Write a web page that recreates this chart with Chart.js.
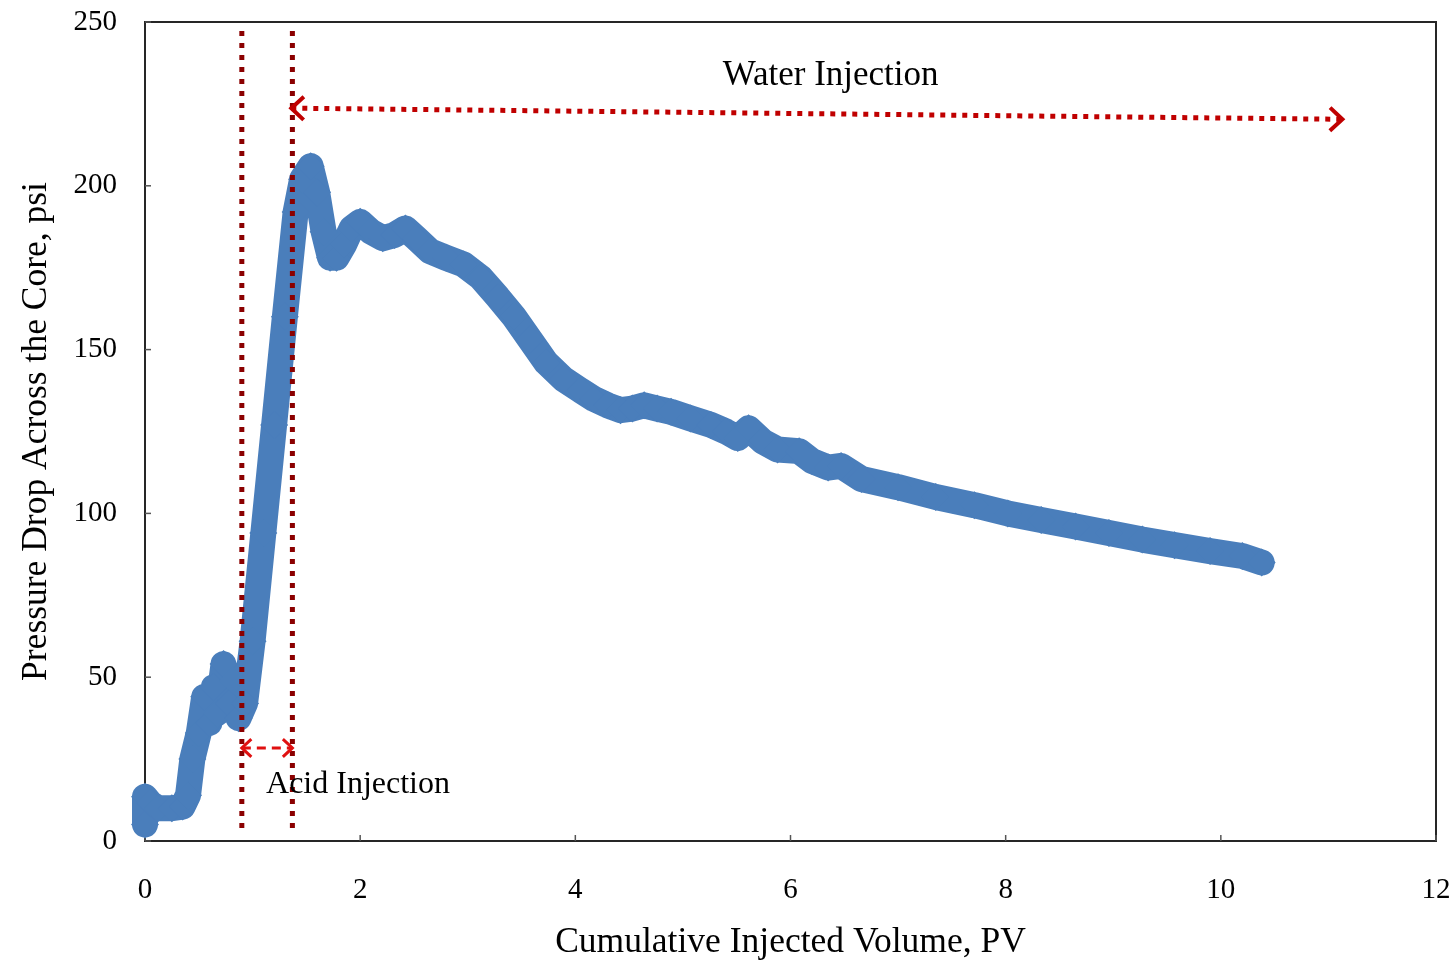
<!DOCTYPE html>
<html>
<head>
<meta charset="utf-8">
<script src="https://cdn.jsdelivr.net/npm/chart.js@4.4.1/dist/chart.umd.min.js"></script>
<style>
  body { margin: 0; background: #fff; }
  #chart { display: block; }
</style>
</head>
<body>
<canvas id="chart" width="1454" height="970"></canvas>
<script>
// Volume injecte cumule (PV) et chute de pression (psi)
const pvValues = [0, 0, 0.05, 0.12, 0.25, 0.35, 0.40, 0.44, 0.50, 0.55, 0.60, 0.64, 0.67, 0.73, 0.78, 0.82,
  0.87, 0.93, 1.00, 1.10, 1.20, 1.30, 1.40, 1.46, 1.54, 1.60, 1.66, 1.72, 1.78, 1.85, 1.92, 2.00, 2.10,
  2.21, 2.32, 2.42, 2.52, 2.65, 2.80, 2.96, 3.12, 3.28, 3.43, 3.58, 3.73, 3.89, 4.05, 4.17, 4.30, 4.42,
  4.53, 4.64, 4.76, 4.89, 5.07, 5.26, 5.40, 5.51, 5.61, 5.74, 5.88, 6.08, 6.20, 6.35, 6.47, 6.66, 7.00,
  7.35, 7.71, 8.02, 8.33, 8.65, 8.96, 9.27, 9.57, 9.90, 10.20, 10.38];
const dpValues = [5, 13.5, 11.5, 10, 10, 10.5, 14, 25, 33, 44, 36, 47, 39, 54, 42, 49,
  37.5, 42, 61, 94, 127, 160, 192, 202, 206, 198, 186, 178, 178, 182, 187, 189, 186,
  184, 185, 187, 184, 180, 178, 176, 172, 166, 160, 153, 146, 141, 137.5, 135, 133, 131.5,
  132, 133, 132, 131, 129, 127, 125, 123, 126, 122, 119.5, 119, 116, 114, 114.5, 110.5, 108,
  105, 102.5, 100, 98, 96, 94, 92, 90.3, 88.5, 87, 85];

// Limites des injections (PV)
const acidStart = 0.9;
const acidEnd = 1.37;
// Fleches : [x debut, y debut, x fin, y fin]
const waterArrow = [1.36, 223.7, 11.13, 220.3];
const acidArrow = [0.9, 28.4, 1.37, 28.4];
// Etiquettes : [texte, x, y]
const waterLabel = ['Water Injection', 5.37, 233.7];
const acidLabel = ['Acid Injection', 1.125, 17.1];

const xTitle = 'Cumulative Injected Volume, PV';
const yTitle = 'Pressure Drop Across the Core, psi';

const serif = '"Liberation Serif", "Times New Roman", serif';

const pts = (xs, ys) => xs.map((v, i) => ({ x: v, y: ys[i] }));

// Dessine une pointe de fleche ouverte
function chevron(ctx, tx, ty, ang, len) {
  ctx.beginPath();
  ctx.moveTo(tx - len * Math.cos(ang - 0.75), ty - len * Math.sin(ang - 0.75));
  ctx.lineTo(tx, ty);
  ctx.lineTo(tx - len * Math.cos(ang + 0.75), ty - len * Math.sin(ang + 0.75));
  ctx.stroke();
}

// pas de marge automatique autour des axes
function fixScale(s, size) {
  if (s.isHorizontal()) s.height = size; else s.width = size;
  s.paddingTop = 0; s.paddingBottom = 0; s.paddingLeft = 0; s.paddingRight = 0;
}

const framePlugin = {
  id: 'frame',
  beforeDatasetsDraw(chart) {
    const { ctx, chartArea: a, scales: { x, y } } = chart;
    ctx.save();
    ctx.strokeStyle = '#262626';
    ctx.lineWidth = 2;
    ctx.strokeRect(a.left, a.top, a.right - a.left, a.bottom - a.top);
    // petits traits de graduation vers l'interieur
    ctx.lineWidth = 1.5;
    ctx.strokeStyle = '#555';
    y.ticks.forEach(t => {
      const py = y.getPixelForValue(t.value);
      ctx.beginPath(); ctx.moveTo(a.left, py); ctx.lineTo(a.left + 6, py); ctx.stroke();
    });
    x.ticks.forEach(t => {
      const px = x.getPixelForValue(t.value);
      ctx.beginPath(); ctx.moveTo(px, a.bottom); ctx.lineTo(px, a.bottom - 6); ctx.stroke();
    });
    ctx.restore();
  }
};

const annotPlugin = {
  id: 'annot',
  afterDatasetsDraw(chart) {
    const { ctx, scales: { x, y } } = chart;
    ctx.save();
    ctx.lineCap = 'butt';
    ctx.lineJoin = 'miter';

    // pointes de la fleche "Water Injection"
    let x1 = x.getPixelForValue(waterArrow[0]), y1 = y.getPixelForValue(waterArrow[1]);
    let x2 = x.getPixelForValue(waterArrow[2]), y2 = y.getPixelForValue(waterArrow[3]);
    let ang = Math.atan2(y2 - y1, x2 - x1);
    ctx.strokeStyle = '#c00000';
    ctx.lineWidth = 4;
    chevron(ctx, x2, y2, ang, 17);
    chevron(ctx, x1, y1, ang + Math.PI, 17);

    // pointes de la fleche "Acid Injection"
    x1 = x.getPixelForValue(acidArrow[0]); y1 = y.getPixelForValue(acidArrow[1]);
    x2 = x.getPixelForValue(acidArrow[2]); y2 = y.getPixelForValue(acidArrow[3]);
    ang = Math.atan2(y2 - y1, x2 - x1);
    ctx.strokeStyle = '#e01010';
    ctx.lineWidth = 3;
    chevron(ctx, x2, y2, ang, 13);
    chevron(ctx, x1, y1, ang + Math.PI, 13);

    // textes
    ctx.fillStyle = '#000';
    ctx.textBaseline = 'middle';
    ctx.textAlign = 'left';
    ctx.font = '35px ' + serif;
    ctx.fillText(waterLabel[0], x.getPixelForValue(waterLabel[1]), y.getPixelForValue(waterLabel[2]));
    ctx.font = '32px ' + serif;
    ctx.fillText(acidLabel[0], x.getPixelForValue(acidLabel[1]), y.getPixelForValue(acidLabel[2]));
    ctx.restore();
  }
};

new Chart(document.getElementById('chart'), {
  type: 'scatter',
  data: {
    datasets: [
      {
        // limites verticales en pointille
        data: pts([acidStart, acidStart], [4, 249]),
        showLine: true, borderColor: '#8b0000', borderWidth: 5, borderDash: [5, 7],
        pointRadius: 0, order: 0
      },
      {
        data: pts([acidEnd, acidEnd], [4, 249]),
        showLine: true, borderColor: '#8b0000', borderWidth: 5, borderDash: [5, 7],
        pointRadius: 0, order: 0
      },
      {
        data: pts([waterArrow[0], waterArrow[2]], [waterArrow[1], waterArrow[3]]),
        showLine: true, borderColor: '#c00000', borderWidth: 5, borderDash: [5, 6],
        pointRadius: 0, order: 0
      },
      {
        data: pts([acidArrow[0], acidArrow[2]], [acidArrow[1], acidArrow[3]]),
        showLine: true, borderColor: '#e01010', borderWidth: 3, borderDash: [9, 6],
        pointRadius: 0, order: 0
      },
      {
        label: 'Pressure drop',
        data: pts(pvValues, dpValues),
        showLine: true,
        borderColor: '#4a7ebb',
        backgroundColor: '#4a7ebb',
        borderWidth: 26,
        borderJoinStyle: 'round',
        borderCapStyle: 'round',
        pointStyle: 'rectRot',
        pointRadius: 14,
        pointBorderWidth: 0,
        tension: 0,
        clip: false,
        order: 1
      }
    ]
  },
  options: {
    responsive: false,
    animation: false,
    events: [],
    layout: { padding: { left: 0, right: 18, top: 22, bottom: 0 } },
    plugins: { legend: { display: false }, tooltip: { enabled: false } },
    scales: {
      x: {
        type: 'linear', min: 0, max: 12,
        grid: { display: false, drawTicks: false },
        border: { display: false },
        ticks: { stepSize: 2, padding: 32, color: '#000', font: { family: serif, size: 29 } },
        title: { display: true, text: xTitle, color: '#000', padding: { top: 0, bottom: 6 },
          font: { family: serif, size: 35.5 } },
        afterFit: s => fixScale(s, 970 - 841)
      },
      y: {
        type: 'linear', min: 0, max: 250,
        grid: { display: false, drawTicks: false },
        border: { display: false },
        ticks: { stepSize: 50, padding: 28, color: '#000', font: { family: serif, size: 29 } },
        title: { display: true, text: yTitle, color: '#000', padding: { top: 15, bottom: 0 },
          font: { family: serif, size: 35.5 } },
        afterFit: s => fixScale(s, 145)
      }
    }
  },
  plugins: [framePlugin, annotPlugin]
});
</script>
</body>
</html>
